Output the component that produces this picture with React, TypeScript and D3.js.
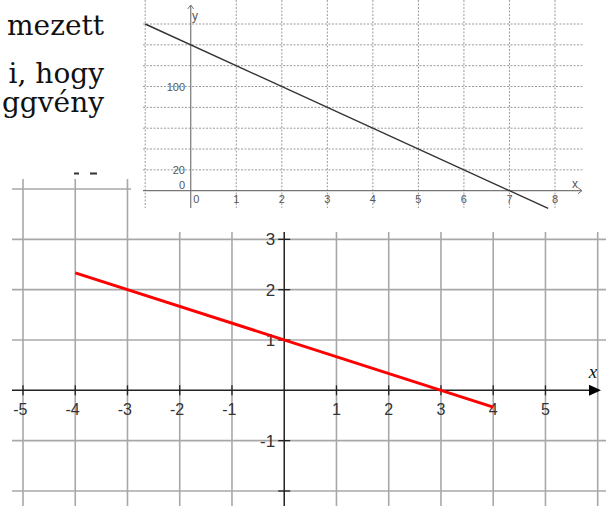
import React from "react";
import * as d3 from "d3";

// ---- text fragments (top-left) ----
const textLines = ["mezett", "i, hogy", "ggvény"];
const textBaselines = [35, 83, 112];

// ---- main chart ----
const mainXTicks = [-5, -4, -3, -2, -1, 1, 2, 3, 4, 5];
const mainYTicks = [3, 2, 1, -1];
const mainYTickMarks = [3, 2, 1, -1, -2];
const mainGridX = [-5, -4, -3, -2, -1, 0, 1, 2, 3, 4, 5, 6];
const mainGridY = [4, 3, 2, 1, -1, -2];
const redLineX = [-4, 4];
const redLineY = [2.333, -0.333];

// ---- inset chart ----
const insetGridX = [-1, 0, 1, 2, 3, 4, 5, 6, 7, 8];
const insetGridY = [20, 40, 60, 80, 100, 120, 140, 160];
const insetXLabels = [0, 1, 2, 3, 4, 5, 6, 7, 8];
const insetYLabels = [100, 20, 0];
const insetLineX = [-1, 7.85];
const insetLineY = [160, -17];

export default function App() {
  const W = 606;
  const H = 506;

  const mx = d3.scaleLinear().domain([-5, 6]).range([23, 597.7]);
  const my = d3.scaleLinear().domain([-2, 4]).range([491, 189]);

  const ix = d3.scaleLinear().domain([-1, 8]).range([145.2, 555]);
  const iy = d3.scaleLinear().domain([0, 160]).range([190.7, 24]);

  const redPts: [number, number][] = redLineX.map((x, i) => [x, redLineY[i]]);
  const redPath = d3
    .line<[number, number]>()
    .x((d) => mx(d[0]))
    .y((d) => my(d[1]))(redPts);

  const insetPts: [number, number][] = insetLineX.map((x, i) => [x, insetLineY[i]]);
  const insetPath = d3
    .line<[number, number]>()
    .x((d) => ix(d[0]))
    .y((d) => iy(d[1]))(insetPts);

  const x0 = mx(0);
  const y0 = my(0);
  const ix0 = ix(0);
  const iy0 = iy(0);

  const gridColor = "#a8a8a8";
  const axisColor = "#222";
  const labelColor = "#333";
  const insetGrid = "#9a9a9a";
  const insetAxis = "#777";
  const insetLabel = "#555";

  return (
    <svg
      width={W}
      height={H}
      viewBox={`0 0 ${W} ${H}`}
      style={{ position: "fixed", left: 0, top: 0, background: "#fff" }}
    >
      <rect x={0} y={0} width={W} height={H} fill="#fff" />

      {/* main grid */}
      <g>
        {mainGridX.filter((v) => v !== 0).map((v) => (
          <line key={"gx" + v} x1={mx(v)} x2={mx(v)} y1={179} y2={H} stroke={gridColor} strokeWidth={1.6} />
        ))}
        {mainGridY.map((v) => (
          <line key={"gy" + v} x1={12} x2={W} y1={my(v)} y2={my(v)} stroke={gridColor} strokeWidth={1.6} />
        ))}
      </g>

      {/* main axes */}
      <line x1={12} x2={592} y1={y0} y2={y0} stroke={axisColor} strokeWidth={1.5} />
      <path d={`M${601},${y0} L${589},${y0 - 5.5} L${589},${y0 + 5.5} Z`} fill="#000" />
      <line x1={x0} x2={x0} y1={179} y2={H} stroke={axisColor} strokeWidth={1.5} />
      {mainXTicks.map((v) => (
        <line key={"xt" + v} x1={mx(v)} x2={mx(v)} y1={y0 - 5} y2={y0 + 5} stroke={axisColor} strokeWidth={1.3} />
      ))}
      {mainYTickMarks.map((v) => (
        <line key={"yt" + v} x1={x0 - 6} x2={x0 + 6} y1={my(v)} y2={my(v)} stroke={axisColor} strokeWidth={1.3} />
      ))}
      {mainXTicks.map((v) => (
        <text
          key={"xl" + v}
          x={mx(v) + 4.5}
          y={y0 + 25}
          textAnchor="end"
          fontFamily="Liberation Sans, Arial, sans-serif"
          fontSize={16}
          fill={labelColor}
        >
          {v}
        </text>
      ))}
      {mainYTicks.map((v) => (
        <text
          key={"yl" + v}
          x={x0 - 9}
          y={my(v) + 6}
          textAnchor="end"
          fontFamily="Liberation Sans, Arial, sans-serif"
          fontSize={17}
          fill={labelColor}
        >
          {v}
        </text>
      ))}
      <text
        x={593}
        y={378}
        textAnchor="middle"
        fontFamily="Liberation Serif, serif"
        fontStyle="italic"
        fontSize={19}
        fill="#111"
      >
        x
      </text>

      {/* red line */}
      <path d={redPath || ""} fill="none" stroke="#ff0000" strokeWidth={3} strokeLinecap="butt" />

      {/* white cover for inset */}
      <rect x={131} y={0} width={W - 131} height={232} fill="#fff" />

      {/* inset grid */}
      <g>
        {insetGridX.filter((v) => v !== 0).map((v) => (
          <line
            key={"igx" + v}
            x1={ix(v)}
            x2={ix(v)}
            y1={0}
            y2={208}
            stroke={insetGrid}
            strokeWidth={1}
            strokeDasharray="2,1.5"
          />
        ))}
        {insetGridY.map((v) => (
          <line
            key={"igy" + v}
            x1={143}
            x2={583}
            y1={iy(v)}
            y2={iy(v)}
            stroke={insetGrid}
            strokeWidth={1}
            strokeDasharray="2,1.5"
          />
        ))}
      </g>
      {/* inset axes */}
      <line x1={143} x2={582} y1={iy0} y2={iy0} stroke={insetAxis} strokeWidth={1.2} />
      <path d={`M${578},${iy0 - 3} L${582},${iy0} L${578},${iy0 + 3}`} fill="none" stroke={insetAxis} strokeWidth={1} />
      <line x1={ix0} x2={ix0} y1={5} y2={208} stroke={insetAxis} strokeWidth={1.2} />
      <path d={`M${ix0 - 3},${9} L${ix0},${5} L${ix0 + 3},${9}`} fill="none" stroke={insetAxis} strokeWidth={1} />
      {insetXLabels.map((v) => (
        <text
          key={"ixl" + v}
          x={v === 0 ? ix(v) + 2.5 : ix(v)}
          y={203}
          textAnchor={v === 0 ? "start" : "middle"}
          fontFamily="Liberation Sans, Arial, sans-serif"
          fontSize={11}
          fill={insetLabel}
        >
          {v}
        </text>
      ))}
      {insetYLabels.map((v) => (
        <text
          key={"iyl" + v}
          x={185}
          y={v === 0 ? iy(v) - 2 : iy(v) + 4}
          textAnchor="end"
          fontFamily="Liberation Sans, Arial, sans-serif"
          fontSize={11}
          fill={insetLabel}
        >
          {v}
        </text>
      ))}
      <text x={192} y={20} fontFamily="Liberation Sans, Arial, sans-serif" fontSize={12} fill={insetLabel}>
        y
      </text>
      <text x={572} y={188} fontFamily="Liberation Sans, Arial, sans-serif" fontSize={12} fill={insetLabel}>
        x
      </text>
      <path d={insetPath || ""} fill="none" stroke="#333" strokeWidth={1.4} />

      {/* text fragments */}
      {textLines.map((t, i) => (
        <text
          key={"t" + i}
          x={104}
          y={textBaselines[i]}
          textAnchor="end"
          fontFamily="DejaVu Serif, serif"
          fontSize={28}
          fill="#111"
        >
          {t}
        </text>
      ))}
      <rect x={74} y={172.5} width={5} height={2} fill="#333" />
      <rect x={90} y={172.5} width={7} height={2} fill="#333" />
    </svg>
  );
}
